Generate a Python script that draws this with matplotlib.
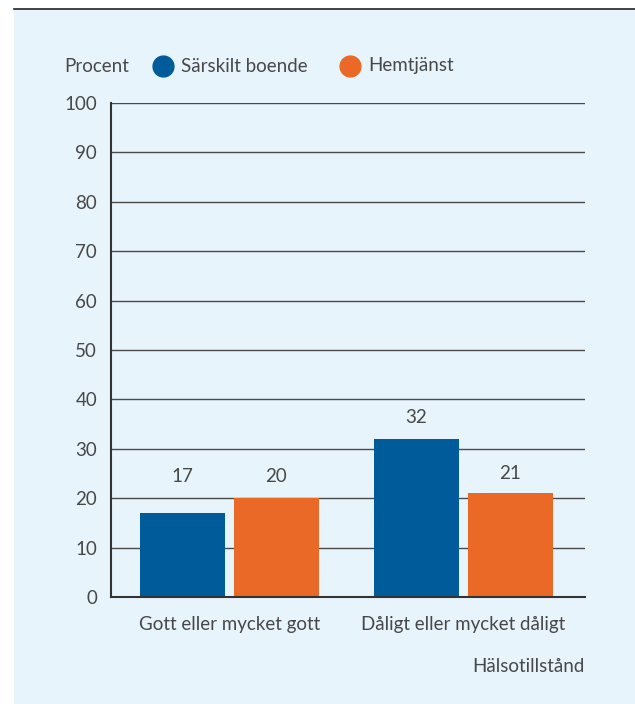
import matplotlib.pyplot as plt
import matplotlib.patches as mpatches
from matplotlib.lines import Line2D
import numpy as np

plt.rcParams['font.family'] = ['Lato', 'DejaVu Sans']

categories = ["Gott eller mycket gott", "Dåligt eller mycket dåligt"]
series_names = ["Särskilt boende", "Hemtjänst"]
saerskilt_boende = [17, 32]
hemtjanst = [20, 21]
yticks = [0, 10, 20, 30, 40, 50, 60, 70, 80, 90, 100]

blue = "#005B9B"
orange = "#EB6926"
bg = "#E8F4FC"
text_col = "#484848"
grid_col = "#4a4a4a"
fs = 13.5

W, H = 635, 704
fig = plt.figure(figsize=(W / 100, H / 100), dpi=100)
fig.patch.set_facecolor("white")

# light blue panel + top rule
fig.add_artist(mpatches.Rectangle((14 / W, 0), 1 - 14 / W, 1 - 9 / H,
                                  transform=fig.transFigure, facecolor=bg,
                                  edgecolor="none", zorder=0))
fig.add_artist(Line2D([14 / W, 1], [1 - 9 / H, 1 - 9 / H], transform=fig.transFigure,
                      color="#222222", linewidth=1.2))

ax = fig.add_axes([111 / W, 1 - 597 / H, (585 - 111) / W, (597 - 103) / H])
ax.set_facecolor("none")

x = np.arange(len(categories))
bw = 0.363
off = 0.2009
ax.bar(x - off, saerskilt_boende, width=bw, color=blue, zorder=3)
ax.bar(x + off, hemtjanst, width=bw, color=orange, zorder=3)

# value labels; first group's labels share a baseline
for i in range(len(categories)):
    a, b = saerskilt_boende[i], hemtjanst[i]
    if i == 0:
        ya = yb = max(a, b)
    else:
        ya, yb = a, b
    ax.text(x[i] - off, ya + 4.3, str(a), ha="center", va="center",
            fontsize=fs, color=text_col)
    ax.text(x[i] + off, yb + 4.0 if i else yb + 4.3, str(b), ha="center",
            va="center", fontsize=fs, color=text_col)

ax.set_xlim(-0.506, 1.519)
ax.set_ylim(0, 100)
ax.set_yticks(yticks)
ax.set_yticklabels([str(t) for t in yticks], fontsize=fs, color=text_col)
ax.set_xticks(x)
ax.set_xticklabels(categories, fontsize=fs, color=text_col)
ax.tick_params(axis="y", length=0, pad=10)
ax.tick_params(axis="x", length=0, pad=14)

ax.grid(axis="y", color=grid_col, linewidth=1.0, zorder=1)
ax.set_axisbelow(True)
for s in ["top", "right"]:
    ax.spines[s].set_visible(False)
ax.spines["left"].set_color("#333333")
ax.spines["left"].set_linewidth(1.5)
ax.spines["bottom"].set_color("#333333")
ax.spines["bottom"].set_linewidth(1.5)
ax.spines["bottom"].set_zorder(4)

# legend row
ly = 1 - 66 / H
fig.text(64 / W, ly, "Procent", fontsize=fs, color=text_col, va="center")
fig.add_artist(Line2D([163 / W], [ly], marker="o", markersize=15, color=blue,
                      transform=fig.transFigure, linestyle="none"))
fig.text(181 / W, ly, series_names[0], fontsize=fs, color=text_col, va="center")
fig.add_artist(Line2D([350 / W], [ly], marker="o", markersize=15, color=orange,
                      transform=fig.transFigure, linestyle="none"))
fig.text(368 / W, ly, series_names[1], fontsize=fs, color=text_col, va="center")

fig.text(585 / W, 1 - 667 / H, "Hälsotillstånd", fontsize=fs, color=text_col,
         ha="right", va="center")

fig.savefig("out.png", dpi=100)
